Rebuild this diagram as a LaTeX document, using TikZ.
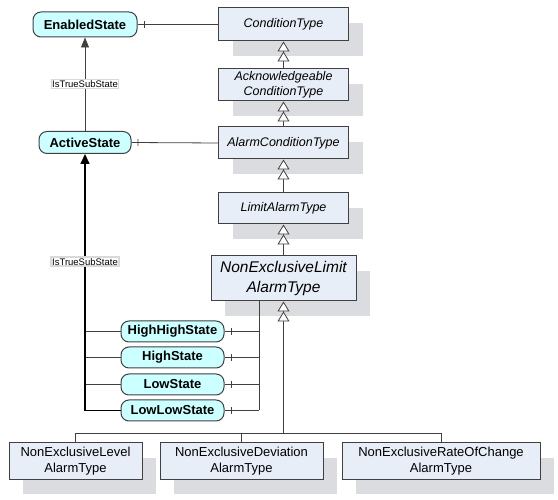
\documentclass[tikz,border=0pt]{standalone}
\usepackage{fontspec}
\setmainfont{Liberation Sans}
\usepackage{tikz}
\usetikzlibrary{arrows.meta,shadows,decorations.markings}
\definecolor{typefill}{RGB}{232,238,248}
\definecolor{statefill}{RGB}{204,255,255}
\definecolor{shgray}{RGB}{218,220,224}
\definecolor{linegray}{RGB}{64,64,64}

\begin{document}
\begin{tikzpicture}[x=1pt,y=-1pt,
	typebox/.style={draw=linegray,line width=1pt,fill=typefill,align=center,inner sep=0pt,
		drop shadow={shadow xshift=14pt,shadow yshift=-15pt,fill=shgray,opacity=1}},
	statebox/.style={draw=linegray,line width=1pt,fill=statefill,rounded corners=8pt,inner sep=0pt,
		font=\fontsize{13}{15}\bfseries\selectfont},
	subtype/.style={draw=linegray,line width=0.8pt,
		-{Triangle[fill=white,length=10pt,width=12pt,sep=0pt]Triangle[fill=white,length=10pt,width=12pt,sep=0pt]}},
	comp/.style={draw=linegray,line width=0.8pt,postaction={decorate},
		decoration={markings,mark=at position 6.5pt with {\draw[linegray,line width=0.8pt] (0,-3.5pt) -- (0,3.5pt);}}},
	lbl/.style={fill=white,draw=black!15,inner sep=1pt,font=\fontsize{9.5}{10}\selectfont}]
	\useasboundingbox (0,0) rectangle (558,500);

	\node[typebox,minimum width=130pt,minimum height=33pt,font=\fontsize{12.5}{15}\itshape\selectfont] (ct) at (283.5,24.5) {ConditionType};
	\node[typebox,minimum width=130pt,minimum height=32pt,font=\fontsize{12.5}{15}\itshape\selectfont] (ack) at (283.5,85) {Acknowledgeable\\ConditionType};
	\node[typebox,minimum width=130pt,minimum height=32pt,font=\fontsize{12.5}{15}\itshape\selectfont] (alc) at (283.5,143) {AlarmConditionType};
	\node[typebox,minimum width=130pt,minimum height=31pt,font=\fontsize{12.5}{15}\itshape\selectfont] (lat) at (283.5,208.5) {LimitAlarmType};
	\node[typebox,minimum width=145pt,minimum height=45pt,font=\fontsize{15.5}{20}\itshape\selectfont] (nel) at (283.5,278.5) {NonExclusiveLimit\\AlarmType};

	\node[typebox,minimum width=133pt,minimum height=36pt,font=\fontsize{13}{16}\selectfont] (lvl) at (75.5,461) {NonExclusiveLevel\\AlarmType};
	\node[typebox,minimum width=163pt,minimum height=36pt,font=\fontsize{13}{16}\selectfont] (dev) at (241.5,461) {NonExclusiveDeviation\\AlarmType};
	\node[typebox,minimum width=198pt,minimum height=36pt,font=\fontsize{13}{16}\selectfont] (roc) at (441,461) {NonExclusiveRateOfChange\\AlarmType};

	\node[statebox,minimum width=104pt,minimum height=25pt] (ens) at (85,24.5) {EnabledState};
	\node[statebox,minimum width=92pt,minimum height=22pt] (acs) at (85,142.5) {ActiveState};
	\node[statebox,minimum width=103pt,minimum height=21pt] (hhs) at (172.5,331.5) {HighHighState};
	\node[statebox,minimum width=103pt,minimum height=21pt] (his) at (172.5,357.5) {HighState};
	\node[statebox,minimum width=103pt,minimum height=21pt] (los) at (172.5,384.5) {LowState};
	\node[statebox,minimum width=103pt,minimum height=21pt] (lls) at (172.5,410.5) {LowLowState};

	\draw[subtype] (ack) -- (ct);
	\draw[subtype] (alc) -- (ack);
	\draw[subtype] (lat) -- (alc);
	\draw[subtype] (nel.north) -- (lat);
	\coordinate (bar) at (283.5,433);
	\draw[subtype] (bar) -- (nel.south);
	\draw[draw=linegray,line width=0.8pt] (lvl.north) |- (bar);
	\draw[draw=linegray,line width=0.8pt] (dev.north) |- (bar);
	\draw[draw=linegray,line width=0.8pt] (roc.north) |- (bar);

	\draw[comp] (ens.east) -- (ct.west);
	\draw[comp] (acs.east) -- (alc.west);
	\coordinate (rbus) at (259,301);
	\draw[draw=linegray,line width=0.8pt] (rbus) -- (rbus |- lls.east);
	\draw[comp] (hhs.east) -- (hhs.east -| rbus);
	\draw[comp] (his.east) -- (his.east -| rbus);
	\draw[comp] (los.east) -- (los.east -| rbus);
	\draw[comp] (lls.east) -- (lls.east -| rbus);

	\draw[draw=linegray,line width=0.8pt,-{Triangle[length=10pt,width=8pt]}] (acs) -- node[lbl] {IsTrueSubState} (ens);
	\draw[draw=linegray,line width=0.8pt] (hhs.west) -- (hhs.west -| acs.south);
	\draw[draw=linegray,line width=0.8pt] (his.west) -- (his.west -| acs.south);
	\draw[draw=linegray,line width=0.8pt] (los.west) -- (los.west -| acs.south);
	\draw[line width=1.6pt,-{Triangle[length=10pt,width=9pt]}] (lls.west) -| node[lbl,pos=0.79] {IsTrueSubState} (acs.south);
\end{tikzpicture}
\end{document}
